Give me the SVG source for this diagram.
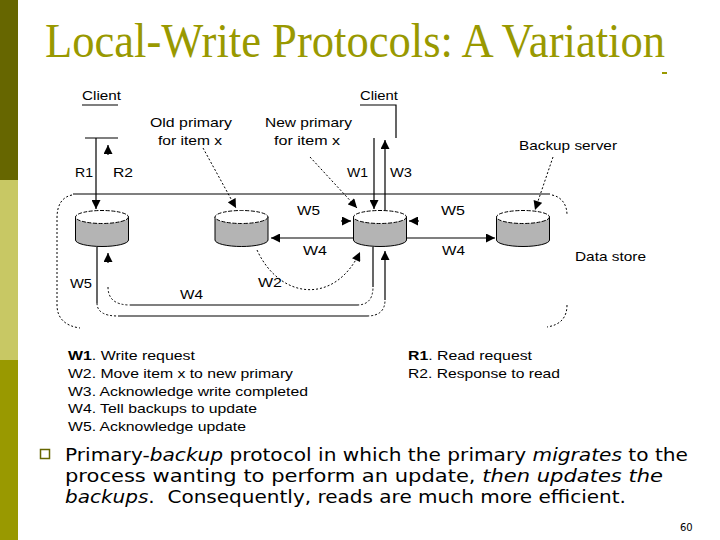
<svg xmlns="http://www.w3.org/2000/svg" width="720" height="540" viewBox="0 0 720 540">
<defs>
<style>
.lbl{font-family:"Liberation Sans",Arial,sans-serif;font-size:13px;fill:#000}
.ln{stroke:#000;stroke-width:1.2;fill:none}
.dot{stroke:#000;stroke-width:1;fill:none;stroke-dasharray:2 2}
.body{fill:#b4b4b4;stroke:#000;stroke-width:1}
.top{fill:#fff;stroke:#000;stroke-width:1;stroke-dasharray:4 1.5}
.txt{font-family:"DejaVu Sans",Verdana,sans-serif;font-size:17.5px;fill:#000}
</style>
<marker id="ah" viewBox="0 0 10 10" refX="10" refY="5" markerWidth="10" markerHeight="9" markerUnits="userSpaceOnUse" orient="auto"><path d="M0,0 L10,5 L0,10 z" fill="#000"/></marker>
</defs>
<rect width="720" height="540" fill="#fff"/>
<g id="sidebar">
<rect x="0" y="0" width="18" height="180" fill="#666600"/>
<rect x="0" y="180" width="18" height="180" fill="#c8c864"/>
<rect x="0" y="360" width="18" height="180" fill="#999900"/>
</g>
<g id="title">
<text x="45" y="57" font-family="'Liberation Serif','Times New Roman',serif" font-size="48" fill="#999900" textLength="620" lengthAdjust="spacingAndGlyphs">Local-Write Protocols: A Variation</text>
<rect x="662" y="72" width="5" height="2" fill="#999900"/>
</g>
<g id="datastore-boundary">
<path class="dot" d="M72,195 C62,197 57,205 57,218 V305 C57,318 65,326 80,328"/>
<path class="dot" d="M552,195 C562,197 567,205 567,215"/>
<path class="dot" d="M567,305 C567,318 560,325 547,327"/>
</g>
<g id="connectors">
<path class="ln" d="M73,194 H550"/>
<path class="ln" d="M82,105 H118"/>
<path class="ln" d="M85,138 H118"/>
<path class="ln" d="M96,138 V209" marker-end="url(#ah)"/>
<path class="ln" d="M108,155 V145" marker-end="url(#ah)"/>
<path class="ln" d="M360,105 H396 V138"/>
<path class="ln" d="M374,138 V209" marker-end="url(#ah)"/>
<path class="ln" d="M385,211 V140" marker-end="url(#ah)"/>
<path class="dot" d="M203,148 L236,208" marker-end="url(#ah)"/>
<path class="dot" d="M310,157 L357,208" marker-end="url(#ah)"/>
<path class="dot" d="M553,157 L535,210" marker-end="url(#ah)"/>
<path class="ln" d="M341,221 H351" marker-end="url(#ah)"/>
<path class="ln" d="M419,221 H409" marker-end="url(#ah)"/>
<path class="ln" d="M353,238 H271" marker-end="url(#ah)"/>
<path class="ln" d="M407,238 H495" marker-end="url(#ah)"/>
<path class="dot" d="M257,250 C280,300 335,305 360,252" marker-end="url(#ah)"/>
<path class="ln" d="M97,247 V303"/>
<path class="dot" d="M97,303 Q97,316 118,316"/>
<path class="ln" d="M118,316 H367"/>
<path class="dot" d="M367,316 Q385,316 385,300"/>
<path class="ln" d="M385,300 V251" marker-end="url(#ah)"/>
<path class="ln" d="M108,263 V253" marker-end="url(#ah)"/>
<path class="dot" d="M108,287 Q108,305 130,305"/>
<path class="ln" d="M130,305 H357"/>
<path class="dot" d="M357,305 Q373,305 373,287"/>
<path class="ln" d="M373,287 V247"/>
</g>
<g id="store-left">
<path class="body" d="M75.5,217 V240 A26.5,6.5 0 0 0 128.5,240 V217"/>
<ellipse class="top" cx="102" cy="217" rx="26.5" ry="6.5"/>
</g>
<g id="old-primary">
<path class="body" d="M215,217 V240 A26.5,6.5 0 0 0 268,240 V217"/>
<ellipse class="top" cx="241.5" cy="217" rx="26.5" ry="6.5"/>
</g>
<g id="new-primary">
<path class="body" d="M353.5,217 V240 A26.5,6.5 0 0 0 406.5,240 V217"/>
<ellipse class="top" cx="380" cy="217" rx="26.5" ry="6.5"/>
</g>
<g id="backup-server">
<path class="body" d="M496.5,217 V240 A26.5,6.5 0 0 0 549.5,240 V217"/>
<ellipse class="top" cx="523" cy="217" rx="26.5" ry="6.5"/>
</g>
<g id="labels">
<text class="lbl" x="82" y="100" textLength="39" lengthAdjust="spacingAndGlyphs">Client</text>
<text class="lbl" x="360" y="100" textLength="38" lengthAdjust="spacingAndGlyphs">Client</text>
<text class="lbl" x="150" y="127" textLength="82" lengthAdjust="spacingAndGlyphs">Old primary</text>
<text class="lbl" x="158" y="145" textLength="64" lengthAdjust="spacingAndGlyphs">for item x</text>
<text class="lbl" x="265" y="127" textLength="87" lengthAdjust="spacingAndGlyphs">New primary</text>
<text class="lbl" x="274" y="145" textLength="66" lengthAdjust="spacingAndGlyphs">for item x</text>
<text class="lbl" x="519" y="150" textLength="98" lengthAdjust="spacingAndGlyphs">Backup server</text>
<text class="lbl" x="75" y="177" textLength="18" lengthAdjust="spacingAndGlyphs">R1</text>
<text class="lbl" x="113" y="177" textLength="20" lengthAdjust="spacingAndGlyphs">R2</text>
<text class="lbl" x="347" y="177" textLength="21" lengthAdjust="spacingAndGlyphs">W1</text>
<text class="lbl" x="390" y="177" textLength="22" lengthAdjust="spacingAndGlyphs">W3</text>
<text class="lbl" x="297" y="215" textLength="23" lengthAdjust="spacingAndGlyphs">W5</text>
<text class="lbl" x="441" y="215" textLength="24" lengthAdjust="spacingAndGlyphs">W5</text>
<text class="lbl" x="303" y="255" textLength="24" lengthAdjust="spacingAndGlyphs">W4</text>
<text class="lbl" x="442" y="255" textLength="23" lengthAdjust="spacingAndGlyphs">W4</text>
<text class="lbl" x="70" y="288" textLength="22" lengthAdjust="spacingAndGlyphs">W5</text>
<text class="lbl" x="180" y="299" textLength="23" lengthAdjust="spacingAndGlyphs">W4</text>
<text class="lbl" x="258" y="287" textLength="24" lengthAdjust="spacingAndGlyphs">W2</text>
<text class="lbl" x="575" y="261" textLength="71" lengthAdjust="spacingAndGlyphs">Data store</text>
</g>
<g id="legend">
<text class="lbl" x="68" y="360" textLength="127" lengthAdjust="spacingAndGlyphs"><tspan font-weight="bold">W1</tspan>. Write request</text>
<text class="lbl" x="68" y="378" textLength="225" lengthAdjust="spacingAndGlyphs">W2. Move item x to new primary</text>
<text class="lbl" x="68" y="396" textLength="240" lengthAdjust="spacingAndGlyphs">W3. Acknowledge write completed</text>
<text class="lbl" x="68" y="413" textLength="189" lengthAdjust="spacingAndGlyphs">W4. Tell backups to update</text>
<text class="lbl" x="68" y="431" textLength="178" lengthAdjust="spacingAndGlyphs">W5. Acknowledge update</text>
<text class="lbl" x="408" y="360" textLength="124" lengthAdjust="spacingAndGlyphs"><tspan font-weight="bold">R1</tspan>. Read request</text>
<text class="lbl" x="408" y="378" textLength="152" lengthAdjust="spacingAndGlyphs">R2. Response to read</text>
</g>
<g id="bullet-text">
<rect x="40.5" y="449.5" width="9" height="9" fill="none" stroke="#666600" stroke-width="1.5"/>
<text class="txt" x="65" y="461" textLength="623" lengthAdjust="spacingAndGlyphs">Primary-<tspan font-style="italic">backup</tspan> protocol in which the primary <tspan font-style="italic">migrates</tspan> to the</text>
<text class="txt" x="65" y="482" textLength="598" lengthAdjust="spacingAndGlyphs">process wanting to perform an update, <tspan font-style="italic">then updates the</tspan></text>
<text class="txt" x="65" y="503" textLength="561" lengthAdjust="spacingAndGlyphs"><tspan font-style="italic">backups</tspan>.&#160; Consequently, reads are much more efficient.</text>
<text x="680" y="531" font-family="'DejaVu Sans',Verdana,sans-serif" font-size="10" fill="#000">60</text>
</g>
</svg>
